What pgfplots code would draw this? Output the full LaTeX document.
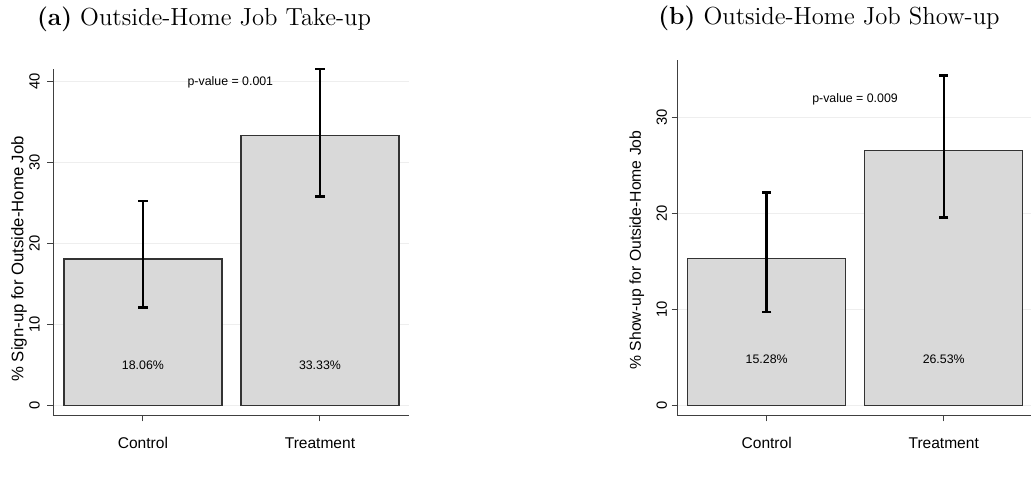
\documentclass[border=0pt]{standalone}
\usepackage{fontspec}
\newfontfamily\arial{Liberation Sans}
\usepackage{pgfplots}
\pgfplotsset{compat=1.18}

\definecolor{barfill}{RGB}{217,217,217}
\definecolor{bardraw}{RGB}{51,51,51}
\definecolor{axisgray}{RGB}{64,64,64}
\definecolor{gridgray}{RGB}{238,238,238}

\pgfplotsset{
  panel/.style={
    scale only axis, anchor=south west,
    axis x line*=bottom, axis y line*=left,
    axis line style={draw=axisgray, line width=0.5bp},
    tick style={draw=axisgray, line width=0.5bp},
    tick align=outside,
    major tick length=2.8bp,
    xtick={0,1}, xticklabels={Control,Treatment},
    xmin=-0.508, xmax=1.503,
    ymajorgrids, major grid style={draw=gridgray, line width=0.5bp},
    /pgf/number format/assume math mode=true,
    yticklabel style={font=\arial\fontsize{7.4}{8}\selectfont, rotate=90, anchor=south, inner sep=0pt},
    xticklabel style={font=\arial\fontsize{7.8}{9}\selectfont, anchor=base, inner sep=0pt, yshift=-13.8bp},
    ylabel style={anchor=center, inner sep=0pt},
  },
  bars/.style={
    ybar, bar width=0.893, fill=barfill, draw=bardraw, line width=0.65bp,
    error bars/.cd, y dir=both, y explicit,
    error bar style={black, line width=1.2bp},
    error mark options={rotate=90, black, line width=1.2bp, mark size=2.3bp},
  },
}

\begin{document}
\begin{tikzpicture}
\useasboundingbox (0,0) rectangle (515.5bp,250.5bp);

\node[anchor=base] at (102bp,237.5bp) {\fontsize{12.4}{15}\selectfont\textbf{(a)} Outside-Home Job Take-up};
\node[anchor=base] at (414.5bp,238bp) {\fontsize{12.4}{15}\selectfont\textbf{(b)} Outside-Home Job Show-up};

% (a) take-up
\begin{axis}[panel,
  at={(26.5bp,42.65bp)}, width=178bp, height=173.35bp,
  ymin=-1.28, ymax=41.5, ytick={0,10,20,30,40},
  yticklabel style={yshift=3.6bp},
  ylabel={\% Sign-up for Outside-Home Job},
  ylabel style={font=\arial\fontsize{8.4}{10}\selectfont, at={(axis description cs:0,0.4526)}, yshift=17bp},
]
\addplot[bars] coordinates {
  (0,18.06) += (0,7.14) -= (0,6.01)
  (1,33.33) += (0,8.17) -= (0,7.58)
};
\node[font=\arial\fontsize{6.2}{7}\selectfont] at (axis cs:0,4.9) {18.06\%};
\node[font=\arial\fontsize{6.2}{7}\selectfont] at (axis cs:1,4.9) {33.33\%};
\node[font=\arial\fontsize{6.2}{7}\selectfont] at (axis cs:0.494,39.8) {p-value = 0.001};
\end{axis}

% (b) show-up
\begin{axis}[panel,
  at={(338.65bp,42.65bp)}, width=177.45bp, height=177.85bp,
  xmin=-0.505, xmax=1.5,
  ymin=-1.085, ymax=36, ytick={0,10,20,30},
  yticklabel style={yshift=2.2bp},
  ylabel={\% Show-up for Outside-Home Job},
  ylabel style={font=\arial\fontsize{7.9}{9}\selectfont, at={(axis description cs:0,0.466)}, yshift=20.3bp},
]
\addplot[bars] coordinates {
  (0,15.28) += (0,6.92) -= (0,5.53)
  (1,26.53) += (0,7.87) -= (0,6.93)
};
\node[font=\arial\fontsize{6.2}{7}\selectfont] at (axis cs:0,4.83) {15.28\%};
\node[font=\arial\fontsize{6.2}{7}\selectfont] at (axis cs:1,4.83) {26.53\%};
\node[font=\arial\fontsize{6.2}{7}\selectfont] at (axis cs:0.499,31.85) {p-value = 0.009};
\end{axis}
\end{tikzpicture}
\end{document}
